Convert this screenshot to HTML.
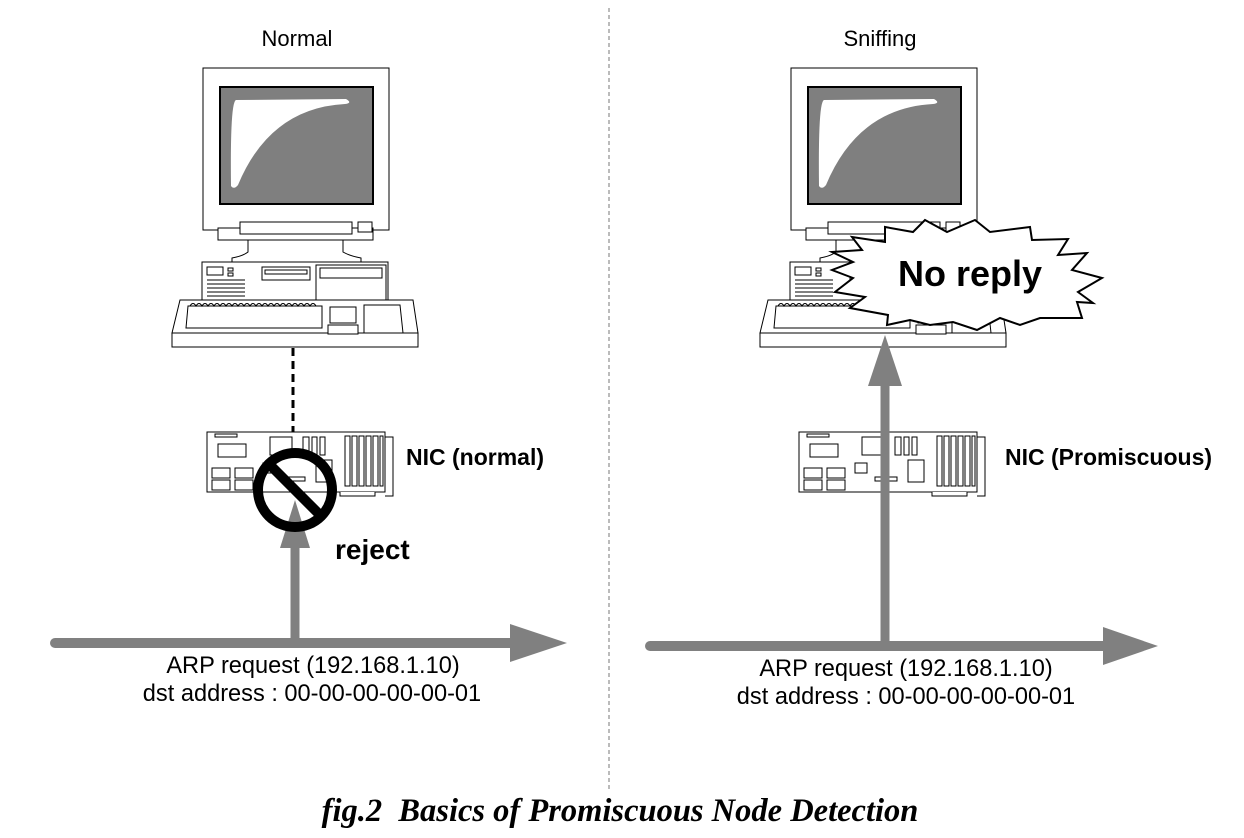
<!DOCTYPE html>
<html><head><meta charset="utf-8"><style>
html,body{margin:0;padding:0;background:#fff;}
svg{display:block;}
text{font-family:"Liberation Sans",sans-serif;}
</style></head><body>
<svg width="1244" height="838" viewBox="0 0 1244 838" xmlns="http://www.w3.org/2000/svg">
<defs>
<g id="pc" stroke="#000" stroke-width="1" fill="#fff">
  <rect x="203" y="68" width="186" height="162"/>
  <rect x="220" y="87" width="153" height="117" fill="#7f7f7f" stroke="#000" stroke-width="2"/>
  <path d="M231 186 Q230 102 236 100 L346 99 Q353 103 345 104 Q270 108 238 185 Q234 190 231 186Z" fill="#fff" stroke="none"/>
  <rect x="218" y="228" width="155" height="12"/>
  <rect x="240" y="222" width="112" height="12"/>
  <rect x="358" y="222" width="14" height="10"/>
  <path d="M248 240 L343 240 L343 252 Q350 256 361 258 L361 262 L232 262 L232 258 Q243 256 248 252Z"/>
  <rect x="202" y="262" width="186" height="40"/>
  <rect x="207" y="267" width="16" height="8"/>
  <rect x="228" y="268" width="5" height="3"/><rect x="228" y="273" width="5" height="3"/>
  <path d="M207 280H245M207 284H245M207 288H245M207 292H245M207 296H245" fill="none"/>
  <rect x="262" y="267" width="48" height="13"/>
  <rect x="265" y="270" width="42" height="4"/>
  <rect x="316" y="265" width="70" height="37"/>
  <rect x="320" y="268" width="62" height="10"/>
  <path d="M172 333 L180 300 L413 300 L418 333Z"/>
  <rect x="172" y="333" width="246" height="14"/>
  <path d="M188 306 L186 328 L322 328 L322 306 Z"/>
  <path d="M190 306 q3 -5 6 0 q3 -5 6 0 q3 -5 6 0 q3 -5 6 0 q3 -5 6 0 q3 -5 6 0 q3 -5 6 0 q3 -5 6 0 q3 -5 6 0 q3 -5 6 0 q3 -5 6 0 q3 -5 6 0 q3 -5 6 0 q3 -5 6 0 q3 -5 6 0 q3 -5 6 0 q3 -5 6 0 q3 -5 6 0 q3 -5 6 0 q3 -5 6 0 q3 -5 6 0" fill="none"/>
  <rect x="330" y="307" width="26" height="16"/>
  <rect x="328" y="325" width="30" height="9"/>
  <path d="M364 305 L400 305 L403 333 L364 333Z"/>
</g>
<g id="nic" stroke="#000" stroke-width="1" fill="#fff">
  <rect x="207" y="432" width="178" height="60"/>
  <path d="M385 437 L393 437 L393 496 L385 496" fill="none"/>
  <rect x="215" y="434" width="22" height="3"/>
  <rect x="218" y="444" width="28" height="13"/>
  <rect x="270" y="437" width="22" height="18"/>
  <rect x="303" y="437" width="6" height="18"/><rect x="312" y="437" width="5" height="18"/><rect x="320" y="437" width="5" height="18"/>
  <rect x="345" y="436" width="5" height="50"/><rect x="352" y="436" width="5" height="50"/><rect x="359" y="436" width="5" height="50"/><rect x="366" y="436" width="5" height="50"/><rect x="373" y="436" width="5" height="50"/><rect x="380" y="436" width="3" height="50"/>
  <rect x="212" y="468" width="18" height="10"/><rect x="235" y="468" width="18" height="10"/>
  <rect x="212" y="480" width="18" height="10"/><rect x="235" y="480" width="18" height="10"/>
  <rect x="263" y="463" width="12" height="10"/>
  <rect x="316" y="460" width="16" height="22"/>
  <rect x="283" y="477" width="22" height="4"/>
  <path d="M340 492 v4 h35 v-4" />
</g>
</defs>

<line x1="609" y1="8" x2="609" y2="792" stroke="#777" stroke-width="1" stroke-dasharray="4,3"/>

<use href="#pc"/>
<use href="#pc" transform="translate(588,0)"/>
<use href="#nic"/>
<use href="#nic" transform="translate(592,0)"/>

<line x1="293" y1="348" x2="293" y2="432" stroke="#000" stroke-width="3" stroke-dasharray="8,5"/>

<line x1="55" y1="643" x2="515" y2="643" stroke="#808080" stroke-width="10" stroke-linecap="round"/>
<polygon points="510,624 567,643 510,662" fill="#808080"/>
<line x1="295" y1="643" x2="295" y2="540" stroke="#808080" stroke-width="9"/>
<polygon points="280,548 295,500 310,548" fill="#808080"/>
<circle cx="295" cy="490" r="37" fill="none" stroke="#000" stroke-width="10"/>
<line x1="270" y1="465" x2="320" y2="515" stroke="#000" stroke-width="10"/>

<line x1="650" y1="646" x2="1110" y2="646" stroke="#808080" stroke-width="10" stroke-linecap="round"/>
<polygon points="1103,627 1158,646 1103,665" fill="#808080"/>
<line x1="885" y1="646" x2="885" y2="380" stroke="#808080" stroke-width="9"/>
<polygon points="868,386 885,335 902,386" fill="#808080"/>

<polygon points="925,220 947,232 975,220 990,232 1030,227 1032,240 1068,239 1058,255 1087,253 1072,270 1102,278 1078,292 1093,303 1077,302 1082,318 1040,318 1020,325 1000,318 977,330 953,322 930,325 910,320 887,325 888,315 850,308 865,297 835,292 853,278 832,270 853,262 832,252 862,250 852,237 885,242 885,227 913,232" fill="#fff" stroke="#000" stroke-width="2"/>
<text x="970" y="286" font-size="36" font-weight="bold" text-anchor="middle">No reply</text>

<text x="297" y="46" font-size="22" text-anchor="middle">Normal</text>
<text x="880" y="46" font-size="22" text-anchor="middle">Sniffing</text>
<text x="406" y="465" font-size="23" font-weight="bold">NIC (normal)</text>
<text x="1005" y="465" font-size="23" font-weight="bold">NIC (Promiscuous)</text>
<text x="335" y="559" font-size="28" font-weight="bold">reject</text>
<text x="313" y="673" font-size="23.6" text-anchor="middle">ARP request (192.168.1.10)</text>
<text x="312" y="701" font-size="23.6" text-anchor="middle">dst address : 00-00-00-00-00-01</text>
<text x="906" y="676" font-size="23.6" text-anchor="middle">ARP request (192.168.1.10)</text>
<text x="906" y="704" font-size="23.6" text-anchor="middle">dst address : 00-00-00-00-00-01</text>
<text x="620" y="821" font-size="32.5" font-weight="bold" font-style="italic" text-anchor="middle" style="font-family:'Liberation Serif',serif;white-space:pre" xml:space="preserve">fig.2  Basics of Promiscuous Node Detection</text>
</svg>
</body></html>
